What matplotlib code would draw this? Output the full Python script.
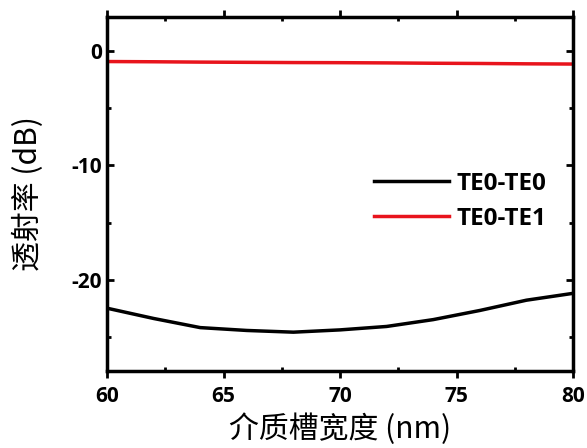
import matplotlib
matplotlib.use("Agg")
import matplotlib.pyplot as plt
from matplotlib.ticker import MultipleLocator

plt.rcParams["font.family"] = ["Noto Sans CJK SC", "DejaVu Sans"]
plt.rcParams["axes.unicode_minus"] = False

width_nm = [60, 62, 64, 66, 68, 70, 72, 74, 76, 78, 80]
te0_te0 = [-22.5, -23.4, -24.2, -24.45, -24.6, -24.4, -24.1, -23.5, -22.7, -21.8, -21.2]
te0_te1 = [-0.9, -0.92, -0.95, -0.97, -0.99, -1.0, -1.02, -1.05, -1.07, -1.1, -1.12]

fig = plt.figure(figsize=(5.87, 4.48), dpi=100)
ax = fig.add_axes([107 / 587, 1 - 371 / 448, (573 - 107) / 587, (371 - 17) / 448])

ax.plot(width_nm, te0_te0, color="black", lw=2.5, label="TE0-TE0")
ax.plot(width_nm, te0_te1, color="#e8141c", lw=2.5, label="TE0-TE1")

ax.set_xlim(60, 80)
ax.set_ylim(-28, 3)
ax.xaxis.set_major_locator(MultipleLocator(5))
ax.xaxis.set_minor_locator(MultipleLocator(2.5))
ax.yaxis.set_major_locator(MultipleLocator(10))
ax.yaxis.set_minor_locator(MultipleLocator(5))
ax.tick_params(which="both", direction="in", top=True, right=True, width=2)
ax.tick_params(which="major", length=5)
ax.tick_params(which="minor", length=3)
ax.tick_params(axis="x", which="major", direction="out", bottom=True, length=5)
ax.tick_params(axis="x", pad=6)
for s in ax.spines.values():
    s.set_linewidth(2.5)

for lab in ax.get_xticklabels() + ax.get_yticklabels():
    lab.set_fontweight("bold")
    lab.set_fontsize(15)
    lab.set_family(["Open Sans", "DejaVu Sans"])

ax.set_xlabel("介质槽宽度 (nm)", fontsize=21.5, labelpad=4)
ax.set_ylabel("透射率 (dB)", fontsize=21.5, labelpad=20)

leg = ax.legend(loc="center right", bbox_to_anchor=(0.99, 0.48), frameon=False,
                handlelength=3.1, handletextpad=0.3, labelspacing=0.45,
                prop={"family": ["Open Sans", "DejaVu Sans"], "weight": "bold", "size": 17.5})

fig.savefig("out.png", dpi=100)
